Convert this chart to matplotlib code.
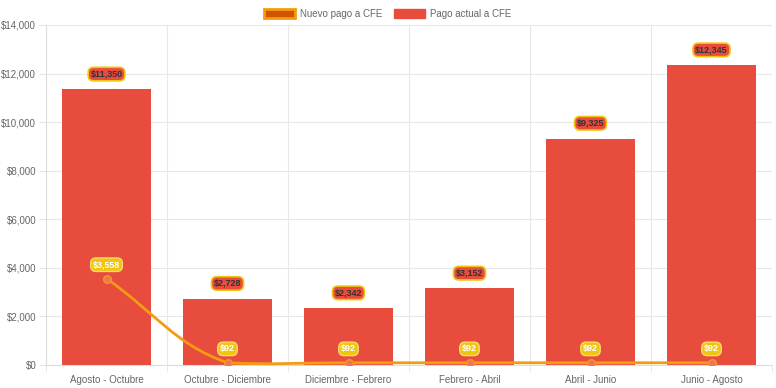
import matplotlib
matplotlib.use('Agg')
import matplotlib.pyplot as plt
from matplotlib.path import Path
from matplotlib.patches import PathPatch, Patch
from matplotlib.ticker import FuncFormatter
import numpy as np

# datos -----------------------------------------------------------------------
periodos = ['Agosto - Octubre', 'Octubre - Diciembre', 'Diciembre - Febrero',
            'Febrero - Abril', 'Abril - Junio', 'Junio - Agosto']
pago_actual = [11350, 2728, 2342, 3152, 9325, 12345]
pago_nuevo = [3558, 92, 92, 92, 92, 92]

rojo = '#e74c3c'
naranja = '#f39c12'
amarillo = '#f1c40f'

plt.rcParams['font.family'] = ['Liberation Sans', 'DejaVu Sans']

fig = plt.figure(figsize=(7.76, 3.88), dpi=100)
ax = fig.add_axes([46 / 776, 23 / 388, 726 / 776, 340 / 388])

x = np.arange(len(periodos))
ax.bar(x, pago_actual, width=0.73, color=rojo, zorder=2)

ax.set_xlim(-0.5, len(periodos) - 0.5)
ax.set_ylim(0, 14000)


# curva suavizada estilo chart.js (tension 0.4) --------------------------------
def control_points(px, py, tension=0.4):
    sx, sy = 121.0, 340.0 / 14000  # escala a pixeles
    pts = np.column_stack([np.array(px) * sx, np.array(py) * sy])
    n = len(pts)
    prev_c, next_c = [], []
    for i in range(n):
        p0 = pts[max(i - 1, 0)]
        p1 = pts[i]
        p2 = pts[min(i + 1, n - 1)]
        d01 = np.hypot(*(p1 - p0))
        d12 = np.hypot(*(p2 - p1))
        tot = d01 + d12 if d01 + d12 > 0 else 1
        fa = tension * d01 / tot
        fb = tension * d12 / tot
        c_prev = p1 - fa * (p2 - p0)
        c_next = p1 + fb * (p2 - p0)
        c_prev[1] = max(c_prev[1], 0)
        c_next[1] = max(c_next[1], 0)
        prev_c.append(c_prev / [sx, sy])
        next_c.append(c_next / [sx, sy])
    return prev_c, next_c


prev_c, next_c = control_points(x, pago_nuevo)
verts = [(x[0], pago_nuevo[0])]
codes = [Path.MOVETO]
for i in range(1, len(x)):
    verts += [tuple(next_c[i - 1]), tuple(prev_c[i]), (x[i], pago_nuevo[i])]
    codes += [Path.CURVE4] * 3
ax.add_patch(PathPatch(Path(verts, codes), facecolor='none', edgecolor=naranja,
                       linewidth=2, zorder=3, clip_on=False))
ax.scatter(x, pago_nuevo, s=30, color='#f0706a', edgecolor=naranja, linewidth=1, zorder=4)

# etiquetas -------------------------------------------------------------------
for xi, v in zip(x, pago_actual):
    ax.annotate(f'${v:,}', (xi, v), xytext=(0, 11), textcoords='offset points',
                ha='center', va='center', fontsize=6.5, fontweight='bold', color='#333333',
                bbox=dict(boxstyle='round,pad=0.25,rounding_size=0.6', fc=rojo, ec=amarillo, lw=1.2),
                zorder=5)
for xi, v in zip(x, pago_nuevo):
    ax.annotate(f'${v:,}', (xi, v), xytext=(0, 10), textcoords='offset points',
                ha='center', va='center', fontsize=6.5, fontweight='bold', color='white',
                bbox=dict(boxstyle='round,pad=0.25,rounding_size=0.6', fc=amarillo, ec='#f7dc6f', lw=1),
                zorder=5)

# ejes ------------------------------------------------------------------------
ax.set_xticks(x)
ax.set_xticklabels(periodos)
ax.set_yticks(np.arange(0, 14001, 2000))
ax.yaxis.set_major_formatter(FuncFormatter(lambda v, p: f'${int(v):,}'))
ax.set_xticks(np.arange(-0.5, len(periodos)), minor=True)
ax.tick_params(axis='both', which='major', labelsize=7, labelcolor='#666666',
               color='#e5e5e5', length=5, pad=2)
ax.tick_params(axis='x', which='major', length=0, pad=7)
ax.tick_params(axis='x', which='minor', length=5, color='#e5e5e5')
ax.grid(axis='y', color='#e8e8e8', linewidth=0.8, zorder=0)
ax.grid(axis='x', which='minor', color='#e8e8e8', linewidth=0.8, zorder=0)
for s in ['top', 'right']:
    ax.spines[s].set_visible(False)
for s in ['left', 'bottom']:
    ax.spines[s].set_color('#dddddd')
ax.set_axisbelow(True)

handles = [Patch(facecolor='#d35400', edgecolor=naranja, linewidth=2, label='Nuevo pago a CFE'),
           Patch(facecolor=rojo, edgecolor=rojo, label='Pago actual a CFE')]
fig.legend(handles=handles, loc='upper center', bbox_to_anchor=(0.5, 1.0), ncol=2,
           frameon=False, fontsize=7, handlelength=3.2, handleheight=1.1,
           columnspacing=1.2, handletextpad=0.5, labelcolor='#666666')

fig.savefig('out.png', dpi=100)
